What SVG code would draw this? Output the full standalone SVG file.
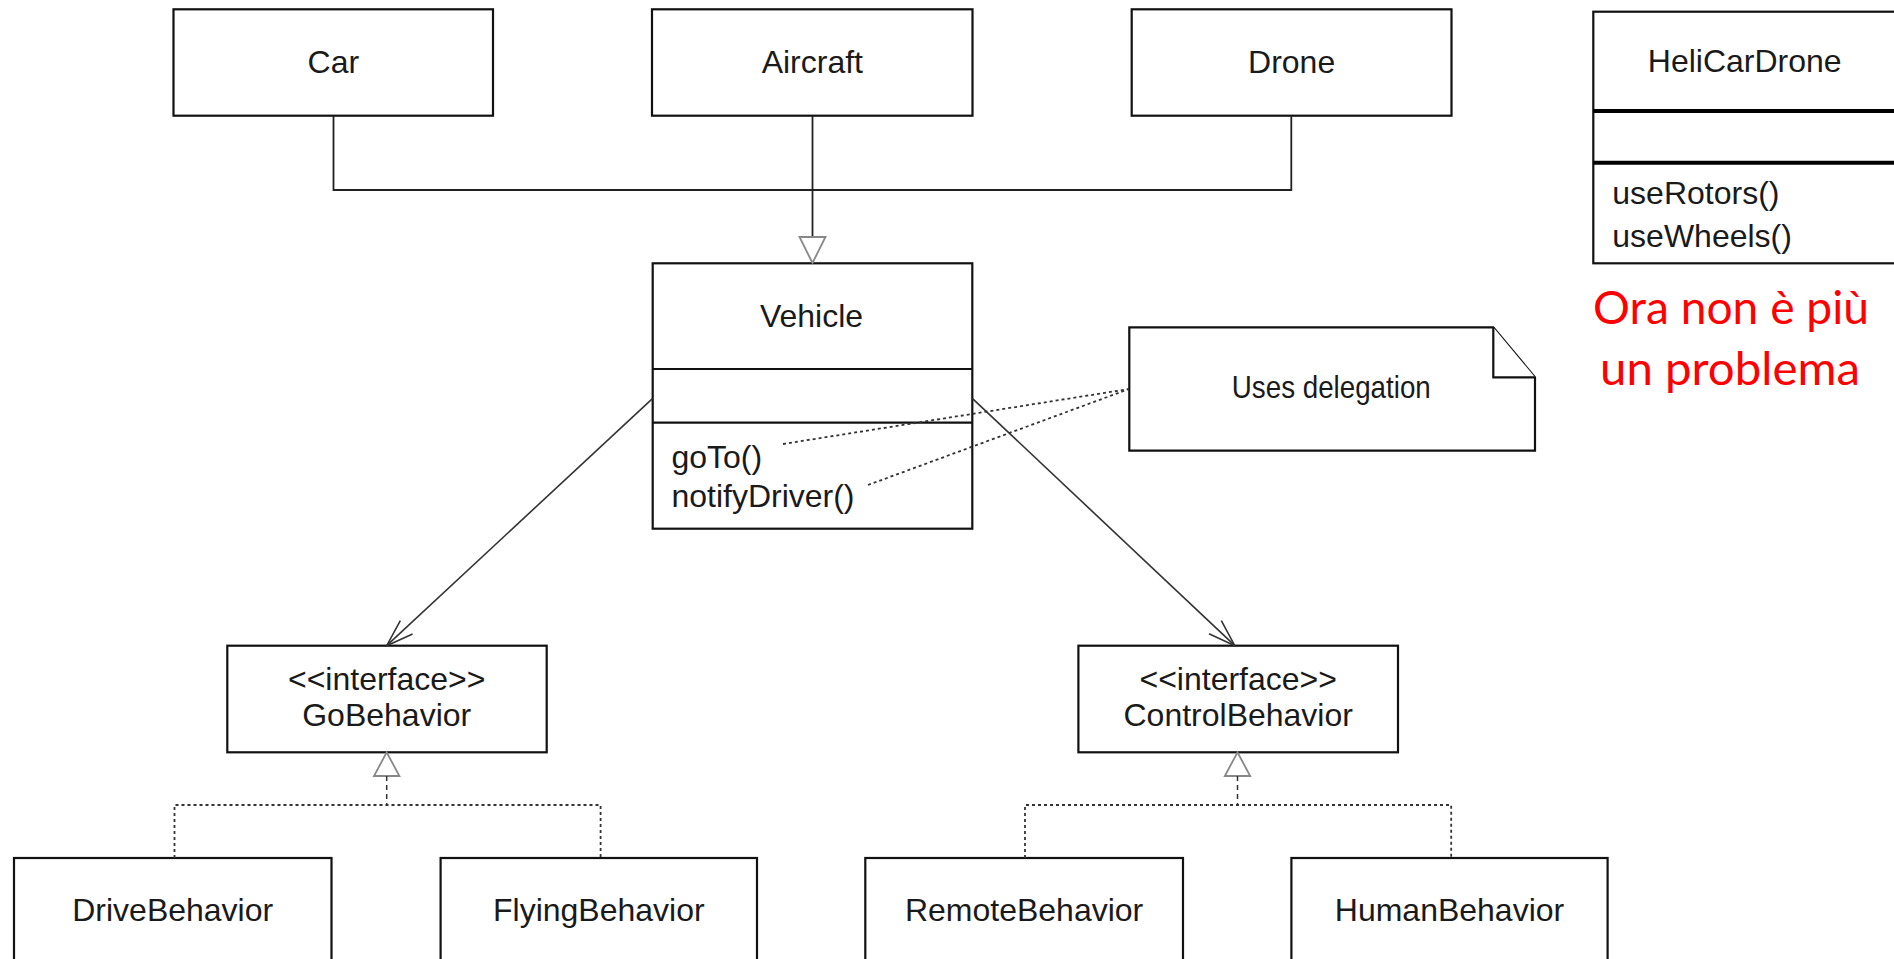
<svg xmlns="http://www.w3.org/2000/svg" width="1894" height="959" viewBox="0 0 1894 959">
<style>
.box{fill:#fff;stroke:#111;stroke-width:2.2}
.sep{stroke:#111;stroke-width:2.2}
.thick{stroke:#000;stroke-width:4}
.t{font-family:"Liberation Sans",Arial,sans-serif;font-size:32px;fill:#1a1a1a}
.c{text-anchor:middle}
.ln{fill:none;stroke:#222;stroke-width:1.8}
.as{fill:none;stroke:#333;stroke-width:1.6}
.dot{fill:none;stroke:#333;stroke-width:1.8;stroke-dasharray:3 3}
.dash{fill:none;stroke:#333;stroke-width:1.5;stroke-dasharray:5 4}
.tri{fill:#fff;stroke:#888;stroke-width:1.8}
.red{font-family:Lato,"Open Sans",sans-serif;font-size:46px;fill:#ff0000;text-anchor:middle}
</style>
<defs>
<marker id="open" markerWidth="32" markerHeight="24" refX="30" refY="12" orient="auto" markerUnits="userSpaceOnUse">
<path d="M3,3 L30,12 L3,21" fill="none" stroke="#333" stroke-width="1.6"/>
</marker>
</defs>
<rect width="1894" height="959" fill="#fff"/>

<g id="car"><rect class="box" x="173.5" y="9.3" width="319.5" height="106.4"/><text class="t c" x="333.3" y="72.7">Car</text></g>
<g id="aircraft"><rect class="box" x="652" y="9.3" width="320.5" height="106.4"/><text class="t c" x="812.3" y="72.7">Aircraft</text></g>
<g id="drone"><rect class="box" x="1131.7" y="9.3" width="319.8" height="106.4"/><text class="t c" x="1291.6" y="72.7">Drone</text></g>

<g id="helicardrone">
<rect class="box" x="1593.3" y="11.7" width="320" height="251.6"/>
<line class="thick" x1="1593.3" y1="111" x2="1894" y2="111"/>
<line class="thick" x1="1593.3" y1="162.7" x2="1894" y2="162.7"/>
<text class="t c" x="1744.7" y="71.7">HeliCarDrone</text>
<text class="t" x="1612.3" y="204">useRotors()</text>
<text class="t" x="1612.3" y="246.7">useWheels()</text>
</g>

<g id="vehicle">
<rect class="box" x="652.7" y="263.3" width="319.6" height="265.4"/>
<line class="sep" x1="652.7" y1="369" x2="972.3" y2="369"/>
<line class="sep" x1="652.7" y1="422.7" x2="972.3" y2="422.7"/>
<text class="t c" x="811.5" y="326.7">Vehicle</text>
<text class="t" x="671.4" y="468.3">goTo()</text>
<text class="t" x="671.4" y="506.7">notifyDriver()</text>
</g>

<g id="note">
<path class="box" d="M1129.3,327.3 H1493.3 L1535,377.3 V450.7 H1129.3 Z"/>
<path class="box" d="M1493.3,327.3 V377.3 H1535"/>
<text class="t c" x="1331.3" y="397.7" textLength="199" lengthAdjust="spacingAndGlyphs">Uses delegation</text>
</g>

<g id="remark">
<text class="red" x="1731" y="324" textLength="276" lengthAdjust="spacingAndGlyphs">Ora non è più</text>
<text class="red" x="1730" y="385" textLength="260" lengthAdjust="spacingAndGlyphs">un problema</text>
</g>

<g id="gobehavior">
<rect class="box" x="227.3" y="645.7" width="319.4" height="106.6"/>
<text class="t c" x="386.7" y="690">&lt;&lt;interface&gt;&gt;</text>
<text class="t c" x="386.7" y="725.7">GoBehavior</text>
</g>
<g id="controlbehavior">
<rect class="box" x="1078.4" y="645.7" width="319.6" height="106.6"/>
<text class="t c" x="1238.2" y="690">&lt;&lt;interface&gt;&gt;</text>
<text class="t c" x="1238.2" y="725.7">ControlBehavior</text>
</g>

<g id="drivebehavior"><rect class="box" x="14" y="858" width="317.5" height="120"/><text class="t c" x="172.7" y="921">DriveBehavior</text></g>
<g id="flyingbehavior"><rect class="box" x="440.6" y="858" width="316.4" height="120"/><text class="t c" x="598.8" y="921">FlyingBehavior</text></g>
<g id="remotebehavior"><rect class="box" x="865.3" y="858" width="317.7" height="120"/><text class="t c" x="1024.1" y="921">RemoteBehavior</text></g>
<g id="humanbehavior"><rect class="box" x="1291.4" y="858" width="316.2" height="120"/><text class="t c" x="1449.5" y="921">HumanBehavior</text></g>

<g id="connectors">
<path class="ln" d="M333.5,115.7 V190 H1291.3 V115.7"/>
<path class="ln" d="M812.5,115.7 V237"/>
<polygon class="tri" points="799.5,237 825.5,237 812.5,263"/>
<line class="as" x1="652.7" y1="398.3" x2="386.7" y2="645.7" marker-end="url(#open)"/>
<line class="as" x1="972.3" y1="398.3" x2="1234.8" y2="645.7" marker-end="url(#open)"/>
<line class="dot" x1="783" y1="444" x2="1129" y2="389"/>
<line class="dot" x1="868" y1="485" x2="1129" y2="389"/>
<polygon class="tri" points="374,776 399.4,776 386.7,752.3"/>
<path class="dash" d="M386.7,776 V805"/>
<path class="dot" d="M174.5,858 V805 H600.6 V858"/>
<polygon class="tri" points="1224.8,776 1250.2,776 1237.5,752.3"/>
<path class="dash" d="M1237.5,776 V805"/>
<path class="dot" d="M1025,858 V805 H1451.2 V858"/>
</g>
</svg>
